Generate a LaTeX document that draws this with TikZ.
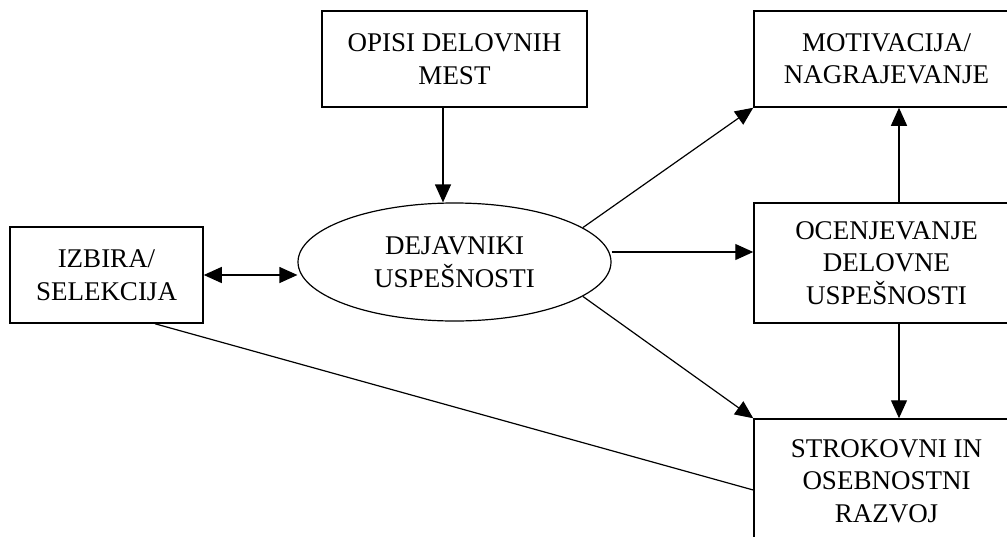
\documentclass[tikz,border=0pt]{standalone}
\usepackage{fontspec}
\setmainfont{Liberation Serif}
\usetikzlibrary{shapes}
\usetikzlibrary{arrows.meta}

\begin{document}
\begin{tikzpicture}[x=1pt,y=-1pt,rbox/.style={draw,rectangle,line width=1.5pt,inner sep=0pt,align=center,font=\fontsize{27}{32.5}\selectfont}, enode/.style={draw,ellipse,line width=1.2pt,minimum width=313pt,minimum height=118pt,inner sep=0pt,align=center,font=\fontsize{27}{32.5}\selectfont}, arr/.style={-{Triangle[length=18pt,width=16pt]},line width=1.2pt}, darr/.style={{Triangle[length=18pt,width=16pt]}-{Triangle[length=18pt,width=16pt]},line width=1.2pt}]
	
	\useasboundingbox (0,0) rectangle (1007,536);
	
	\node[rbox,minimum width=265pt,minimum height=96pt] (opisi) at (454.5,59) {OPISI DELOVNIH\\MEST};
	\node[rbox,minimum width=265pt,minimum height=96pt] (motiv) at (886.5,59) {MOTIVACIJA/\\NAGRAJEVANJE};
	
	\node[rbox,minimum width=193pt,minimum height=96pt] (izbira) at (106.5,275) {IZBIRA/\\SELEKCIJA};
	\node[enode] (dej) at (454.5,262) {DEJAVNIKI\\USPEŠNOSTI};
	\node[rbox,minimum width=265pt,minimum height=120pt] (ocenj) at (886.5,263) {OCENJEVANJE\\DELOVNE\\USPEŠNOSTI};
	
	\node[rbox,minimum width=265pt,minimum height=124pt] (strok) at (886.5,481) {STROKOVNI IN\\OSEBNOSTNI\\RAZVOJ};
	
	\draw[arr] ([xshift=-11.5pt]opisi.south) -- ([xshift=-11.5pt]dej.north);
	\draw[darr] (izbira.east) -- (izbira.east -| dej.west);
	\draw[arr] (dej.15) -- (motiv.south west);
	\draw[arr] ([yshift=10pt]dej.east) -- ([yshift=10pt]dej.east -| ocenj.west);
	\draw[arr] (dej.-15) -- (strok.north west);
	\draw[arr] ([xshift=12.5pt]ocenj.north) -- ([xshift=12.5pt]motiv.south);
	\draw[arr] ([xshift=12.5pt]ocenj.south) -- ([xshift=12.5pt]strok.north);
	\draw[line width=1.2pt] ([xshift=48.5pt]izbira.south) -- ([yshift=-9pt]strok.west);
\end{tikzpicture}
\end{document}
